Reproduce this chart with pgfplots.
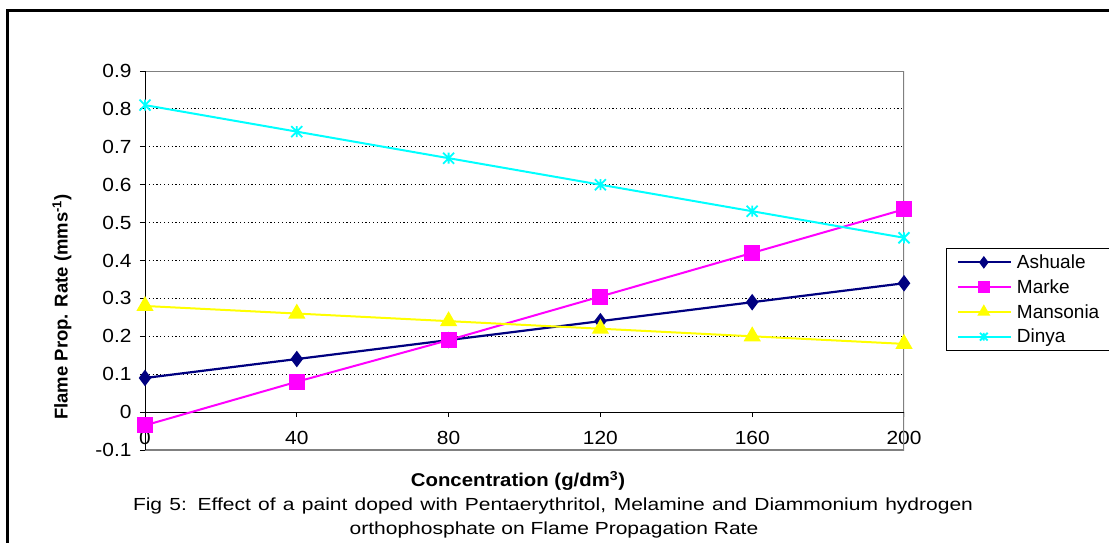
\documentclass[border=0pt]{standalone}
\usepackage{fontspec}
\setmainfont{Liberation Sans}
\newfontfamily\capfont{Liberation Sans}[FakeStretch=1.2]
\newfontfamily\tickfont{Liberation Sans}[FakeStretch=1.1]
\usepackage{pgfplots}
\pgfplotsset{compat=1.18}
\definecolor{cnavy}{RGB}{0,0,128}
\definecolor{cmag}{RGB}{255,0,255}
\definecolor{cyel}{RGB}{255,255,0}
\definecolor{ccyan}{RGB}{0,255,255}
\definecolor{cframe}{RGB}{128,128,128}
\pgfdeclareplotmark{xstar}{%
 \pgfpathmoveto{\pgfqpoint{-\pgfplotmarksize}{-\pgfplotmarksize}}\pgfpathlineto{\pgfqpoint{\pgfplotmarksize}{\pgfplotmarksize}}%
 \pgfpathmoveto{\pgfqpoint{-\pgfplotmarksize}{\pgfplotmarksize}}\pgfpathlineto{\pgfqpoint{\pgfplotmarksize}{-\pgfplotmarksize}}%
 \pgfpathmoveto{\pgfqpoint{0pt}{-\pgfplotmarksize}}\pgfpathlineto{\pgfqpoint{0pt}{\pgfplotmarksize}}%
 \pgfusepathqstroke}
\begin{document}
\begin{tikzpicture}[x=1pt,y=1pt]
\path[use as bounding box] (0,0) rectangle (1109,542);
\draw[line width=3pt] (7,-5) -- (7,531) -- (1115,531);
\begin{axis}[
  at={(145pt,92pt)}, anchor=south west,
  scale only axis, width=759pt, height=379pt,
  xmin=0, xmax=200, ymin=-0.1, ymax=0.9,
  xtick={0,40,80,120,160,200},
  ytick={-0.1,0,0.1,0.2,0.3,0.4,0.5,0.6,0.7,0.8,0.9},
  ytick pos=left, xtick pos=bottom,
  /pgf/number format/.cd, fixed, precision=1, assume math mode=true, /pgfplots/.cd,
  axis line style={draw=none},
  ymajorgrids, grid style={black, line width=1pt, dash pattern=on 1.2pt off 2.6pt},
  tick align=outside, major tick length=5pt,
  ytick style={black, line width=1pt},
  xtick style={draw=none},
  yticklabel style={font=\fontsize{19}{19}\tickfont, xshift=-5pt},
  xticklabel style={font=\fontsize{19}{19}\tickfont, yshift=27pt},
  legend style={at={(axis description cs:1.0553,0.533)}, anchor=north west,
    draw=black, line width=1.5pt, font=\fontsize{19}{19}\selectfont,
    inner xsep=10pt, inner ysep=4pt, row sep=5.5pt,
    /tikz/every odd column/.append style={column sep=3pt}},
  legend cell align=left,
  legend image code/.code={\draw[mark repeat=2,mark phase=2, every mark/.append style={scale=0.7}] plot coordinates {(0pt,0pt) (26pt,0pt) (53pt,0pt)};},
]
\draw[cframe, line width=2.5pt] (rel axis cs:0,1) -- (rel axis cs:1,1) -- (rel axis cs:1,0) -- (rel axis cs:0,0);
\draw[black, line width=1pt] (axis cs:0,0) -- (axis cs:200,0);
\draw[black, line width=1pt] (axis cs:40,0) -- ([yshift=-5pt]axis cs:40,0);
\draw[black, line width=1pt] (axis cs:80,0) -- ([yshift=-5pt]axis cs:80,0);
\draw[black, line width=1pt] (axis cs:120,0) -- ([yshift=-5pt]axis cs:120,0);
\draw[black, line width=1pt] (axis cs:160,0) -- ([yshift=-5pt]axis cs:160,0);
\draw[black, line width=1pt] (axis cs:200,0) -- ([yshift=-5pt]axis cs:200,0);
\draw[black, line width=2pt] (rel axis cs:0,0) -- (rel axis cs:0,1);
\addplot[cnavy, line width=2.2pt, mark=diamond*, mark size=6.5pt, mark options={solid, fill=cnavy, draw=cnavy}]
  coordinates {(0,0.09) (40,0.14) (80,0.19) (120,0.24) (160,0.29) (200,0.34)};
\addlegendentry{\makebox[92pt][l]{Ashuale}}
\addplot[cmag, line width=2pt, mark=square*, mark size=7pt, mark options={solid, fill=cmag, draw=cmag}]
  coordinates {(0,-0.035) (40,0.08) (80,0.19) (120,0.305) (160,0.42) (200,0.535)};
\addlegendentry{Marke}
\addplot[cyel, line width=2pt, mark=triangle*, mark size=8pt, mark options={solid, fill=cyel, draw=cyel}]
  coordinates {(0,0.28) (40,0.26) (80,0.24) (120,0.22) (160,0.20) (200,0.18)};
\addlegendentry{Mansonia}
\addplot[ccyan, line width=2pt, mark=xstar, mark size=5.5pt, mark options={solid, line width=1.8pt}]
  coordinates {(0,0.81) (40,0.74) (80,0.67) (120,0.60) (160,0.53) (200,0.46)};
\addlegendentry{Dinya}
\end{axis}
\node[rotate=90, font=\fontsize{18.5}{18.5}\selectfont\bfseries] at (62,235) {Flame Prop. Rate (mms\textsuperscript{-1})};
\node[font=\fontsize{18.5}{18.5}\tickfont\bfseries] at (518,61) {Concentration (g/dm\textsuperscript{3})};
\node[font=\fontsize{17.5}{17.5}\capfont] at (553,36) {\makebox[840pt][s]{Fig 5:  Effect of a paint doped with Pentaerythritol, Melamine and Diammonium hydrogen}};
\node[font=\fontsize{17.5}{17.5}\capfont] at (554,12) {orthophosphate on Flame Propagation Rate};
\end{tikzpicture}
\end{document}
